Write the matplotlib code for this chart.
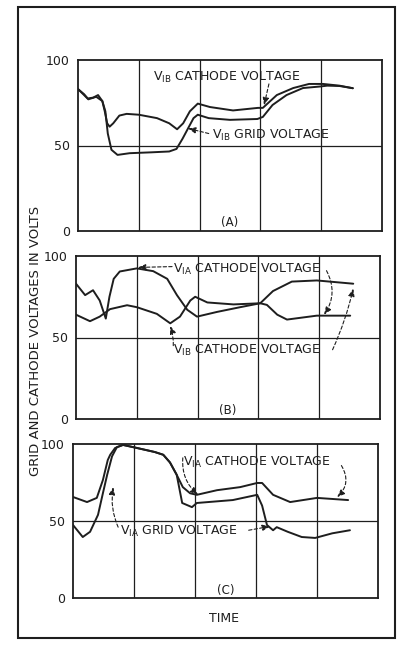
import numpy as np
import matplotlib
matplotlib.use("Agg")
import matplotlib.pyplot as plt
from matplotlib.patches import Rectangle

INK = "#1e1e1e"

# (A) V1B cathode and grid voltage
a_cath_t = [0.00, 0.10, 0.16, 0.25, 0.33, 0.40, 0.44, 0.48, 0.52, 0.58, 0.68, 0.80, 1.00,
            1.30, 1.50, 1.63, 1.73, 1.84, 1.97, 2.17, 2.55, 2.96, 3.04, 3.27, 3.54, 3.80,
            4.03, 4.30, 4.52]
a_cath_v = [83, 80, 77.5, 78, 79.5, 76, 70, 63, 61, 63, 67.5, 68.5, 68,
            66, 63, 59.5, 63, 70, 74.5, 72.5, 70.5, 72, 72, 79.5, 83.6, 86,
            86, 85, 83.5]
a_grid_t = [0.00, 0.10, 0.17, 0.30, 0.40, 0.45, 0.49, 0.55, 0.65, 0.85, 1.20, 1.50, 1.62,
            1.72, 1.81, 1.90, 1.97, 2.15, 2.50, 2.95, 3.04, 3.20, 3.43, 3.70, 3.98, 4.10,
            4.30, 4.52]
a_grid_v = [83, 79.5, 77, 78.5, 76, 70, 57, 47.5, 44.5, 45.5, 46, 46.5, 48,
            54, 60, 66, 68, 66, 65, 65.5, 66.7, 73.7, 79.5, 83.6, 84.5, 85,
            84.8, 83.5]

# (B) V1A and V1B cathode voltages
b_via_t = [0.00, 0.15, 0.28, 0.39, 0.49, 0.55, 0.62, 0.72, 1.00, 1.27, 1.50, 1.66, 1.83,
           1.99, 2.32, 2.70, 3.03, 3.14, 3.31, 3.47, 3.96, 4.51]
b_via_v = [83, 76, 79, 72.7, 61.6, 75, 86, 90.5, 92.4, 90.7, 86, 76, 67,
           62.8, 65.7, 68.6, 71, 70, 64, 61, 63.4, 63.4]
b_vib_t = [0.00, 0.23, 0.39, 0.56, 0.84, 1.00, 1.33, 1.55, 1.71, 1.88, 1.96, 2.16, 2.59,
           3.03, 3.24, 3.55, 3.96, 4.56]
b_vib_v = [64, 60, 62.8, 67.4, 69.8, 68.6, 64.5, 58.7, 62.8, 72.7, 75, 71.5, 70.3,
           71, 78.5, 84.3, 85, 83]

# (C) V1A cathode and grid voltage
c_cath_t = [0.00, 0.23, 0.39, 0.49, 0.57, 0.61, 0.69, 0.82, 1.05, 1.34, 1.48, 1.59, 1.70,
            1.80, 1.92, 2.03, 2.36, 2.74, 3.02, 3.10, 3.28, 3.56, 4.00, 4.51]
c_cath_v = [65.6, 62.3, 65, 76.6, 89.6, 93, 97.4, 99.4, 97.4, 94.8, 93, 88, 80,
            72, 68, 67, 70, 72, 74.7, 74.7, 67, 62.3, 65, 63.6]
c_grid_t = [0.00, 0.16, 0.28, 0.41, 0.49, 0.56, 0.64, 0.72, 0.82, 1.05, 1.34, 1.48, 1.59,
            1.70, 1.79, 1.95, 2.03, 2.62, 3.02, 3.10, 3.18, 3.28, 3.34, 3.52, 3.75, 3.97,
            4.25, 4.54]
c_grid_v = [47.4, 39.6, 43, 54, 68, 80, 92, 98, 99.4, 97.4, 94.8, 93, 88,
            80, 61.7, 59, 61.7, 63.6, 67, 60, 47.4, 44, 46, 43, 39.6, 39,
            42, 44]

y_ticks = [0, 50, 100]
y_labels = ["0", "50", "100"]

fig = plt.figure(figsize=(4.02, 6.51), dpi=100)
fig.patch.set_facecolor("white")

boxes = {
    "A": [78 / 402, 1 - 231 / 651, 304 / 402, 171 / 651],
    "B": [76 / 402, 1 - 419 / 651, 304 / 402, 163 / 651],
    "C": [73 / 402, 1 - 598 / 651, 305 / 402, 154 / 651],
}


def panel(key, series, letter):
    ax = fig.add_axes(boxes[key])
    ax.set_xlim(0, 5)
    ax.set_ylim(0, 100)
    for x in [1, 2, 3, 4]:
        ax.axvline(x, color=INK, lw=0.9, zorder=1)
    ax.axhline(50, color=INK, lw=0.9, zorder=1)
    for t, v in series:
        ax.plot(t, v, color=INK, lw=1.4, solid_joinstyle="round",
                solid_capstyle="round", zorder=3)
    ax.set_xticks([])
    ax.set_yticks(y_ticks)
    ax.set_yticklabels(y_labels, fontsize=9, color=INK)
    ax.tick_params(axis="y", length=0, pad=6)
    for s in ax.spines.values():
        s.set_color(INK)
        s.set_linewidth(1.3)
    ax.text(2.5, 5, letter, ha="center", va="center", fontsize=8.5, color=INK)
    return ax


def note(ax, xy, xytext, rad=0.0):
    ax.annotate("", xy=xy, xytext=xytext,
                arrowprops=dict(arrowstyle="-|>,head_length=0.45,head_width=0.18",
                                linestyle=(0, (3, 2)), lw=0.8, color=INK,
                                shrinkA=0, shrinkB=0,
                                connectionstyle=f"arc3,rad={rad}"),
                zorder=4)


def label(ax, t, v, sub, rest):
    ax.text(t, v, r"$\mathrm{V_{" + sub + "}}$ " + rest, ha="left", va="center",
            fontsize=9, color=INK, zorder=5)


ax_a = panel("A", [(a_cath_t, a_cath_v), (a_grid_t, a_grid_v)], "(A)")
label(ax_a, 1.23, 90, "IB", "CATHODE VOLTAGE")
note(ax_a, (3.06, 73.5), (3.14, 86), rad=0.0)
label(ax_a, 2.20, 56, "IB", "GRID VOLTAGE")
note(ax_a, (1.81, 60), (2.15, 57), rad=0.0)

ax_b = panel("B", [(b_via_t, b_via_v), (b_vib_t, b_vib_v)], "(B)")
label(ax_b, 1.60, 92, "IA", "CATHODE VOLTAGE")
note(ax_b, (1.02, 93), (1.58, 93.5), rad=0.0)
note(ax_b, (4.08, 64), (4.12, 91), rad=-0.3)
label(ax_b, 1.60, 42, "IB", "CATHODE VOLTAGE")
note(ax_b, (1.55, 57), (1.60, 45), rad=0.1)
note(ax_b, (4.56, 80), (4.22, 42.5), rad=0.05)

ax_c = panel("C", [(c_cath_t, c_cath_v), (c_grid_t, c_grid_v)], "(C)")
label(ax_c, 1.80, 88, "IA", "CATHODE VOLTAGE")
note(ax_c, (2.05, 67), (1.80, 91), rad=0.25)
note(ax_c, (4.33, 65.5), (4.40, 86), rad=-0.4)
label(ax_c, 0.77, 43, "IA", "GRID VOLTAGE")
note(ax_c, (0.66, 72), (0.74, 46), rad=-0.15)
note(ax_c, (3.23, 46.5), (2.88, 44), rad=0.0)

fig.text(36 / 402, 1 - 341 / 651, "GRID AND CATHODE VOLTAGES IN VOLTS",
         rotation=90, ha="center", va="center", fontsize=9.5, color=INK)
fig.text(224 / 402, 1 - 618 / 651, "TIME", ha="center", va="center",
         fontsize=9, color=INK)

# outer frame around the whole figure
fig.add_artist(Rectangle((18 / 402, 1 - 638 / 651), 377 / 402, 631 / 651,
                         transform=fig.transFigure, fill=False,
                         edgecolor=INK, lw=1.5))

fig.savefig("out.png", dpi=100, facecolor="white")
